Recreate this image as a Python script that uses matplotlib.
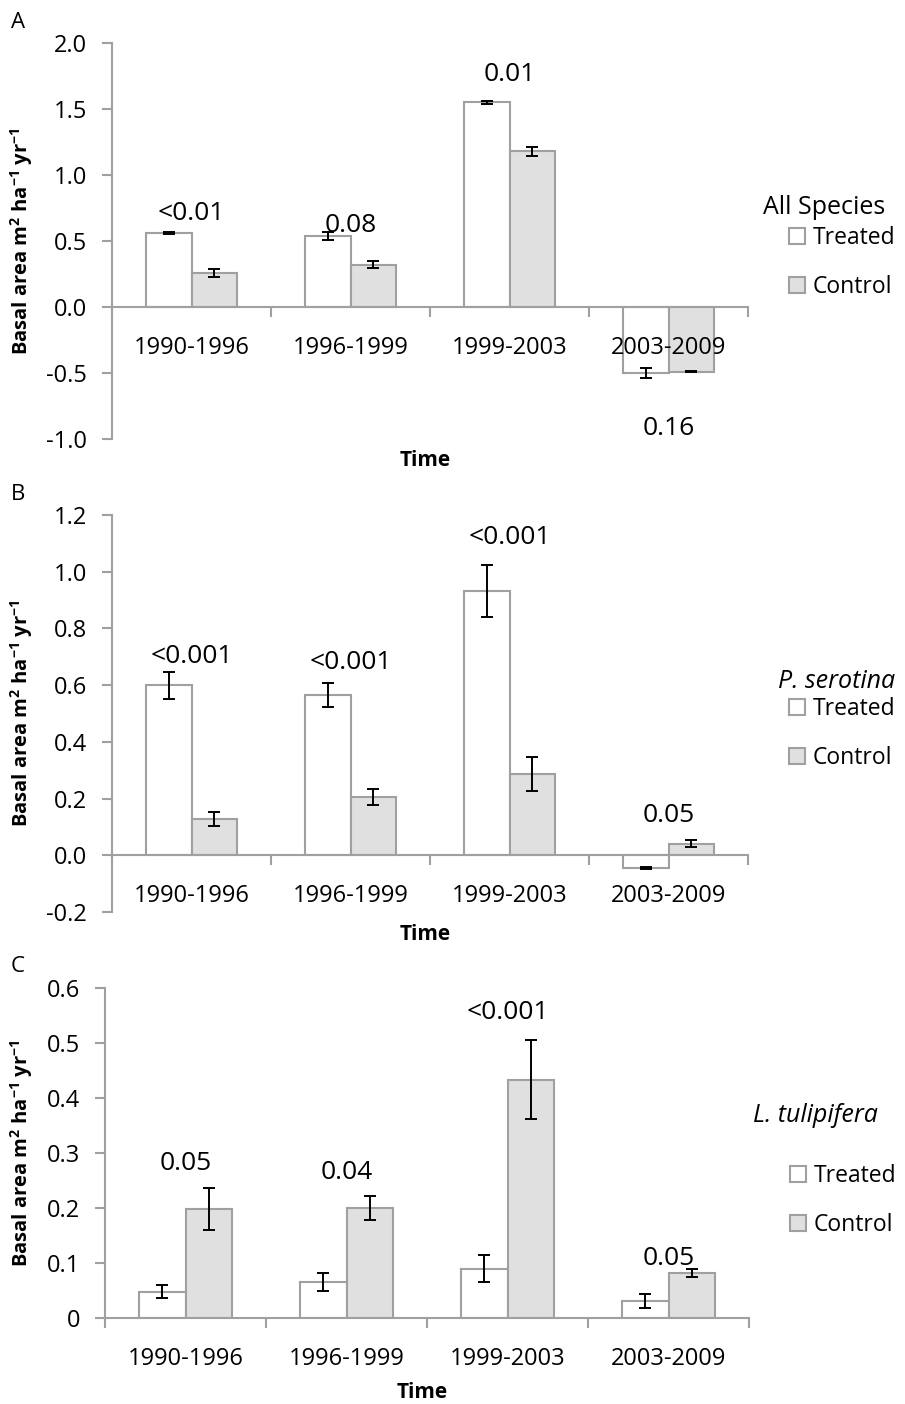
import numpy as np
import matplotlib.pyplot as plt
from matplotlib.patches import Patch

plt.rcParams['font.family'] = ['Open Sans', 'DejaVu Sans']
plt.rcParams['mathtext.fontset'] = 'custom'
plt.rcParams['mathtext.rm'] = 'Open Sans'
plt.rcParams['mathtext.bf'] = 'Open Sans:bold'

periods = ['1990-1996', '1996-1999', '1999-2003', '2003-2009']

# A: all species
a_treated = [0.56, 0.54, 1.55, -0.50]
a_treated_err = [0.01, 0.03, 0.01, 0.04]
a_control = [0.26, 0.32, 1.18, -0.49]
a_control_err = [0.03, 0.025, 0.035, 0.004]
a_p = ['<0.01', '0.08', '0.01', '0.16']
a_p_y = [0.71, 0.62, 1.76, -0.92]

# B: P. serotina
b_treated = [0.60, 0.565, 0.932, -0.045]
b_treated_err = [0.048, 0.043, 0.092, 0.004]
b_control = [0.127, 0.206, 0.286, 0.041]
b_control_err = [0.024, 0.027, 0.060, 0.012]
b_p = ['<0.001', '<0.001', '<0.001', '0.05']
b_p_y = [0.70, 0.68, 1.12, 0.14]

# C: L. tulipifera
c_treated = [0.048, 0.066, 0.090, 0.031]
c_treated_err = [0.012, 0.016, 0.024, 0.013]
c_control = [0.198, 0.200, 0.433, 0.082]
c_control_err = [0.038, 0.021, 0.072, 0.007]
c_p = ['0.05', '0.04', '<0.001', '0.05']
c_p_y = [0.28, 0.264, 0.555, 0.109]

W, H = 905, 1404
fig = plt.figure(figsize=(W / 100, H / 100), dpi=100)

grey = '#a0a0a0'
fill_c = '#e0e0e0'
bw = 0.286


def px(x, y):
    return x / W, 1 - y / H


def panel(box, treated, t_err, control, c_err, pvals, p_y, ylim, yticks, fmt,
          letter, title, title_style, legend_px, title_px):
    l, t, r, b = box
    ax = fig.add_axes([l / W, 1 - b / H, (r - l) / W, (b - t) / H])
    x = np.arange(len(periods))
    ekw = dict(ecolor='black', elinewidth=1.4, capsize=4, capthick=1.4)
    ax.bar(x - bw / 2, treated, bw, color='white', edgecolor=grey, linewidth=1.5,
           yerr=t_err, error_kw=ekw, zorder=2)
    ax.bar(x + bw / 2, control, bw, color=fill_c, edgecolor=grey, linewidth=1.5,
           yerr=c_err, error_kw=ekw, zorder=2)
    for xi, s, yy in zip(x, pvals, p_y):
        ax.text(xi, yy, s, ha='center', va='center', fontsize=19, zorder=4)

    ax.set_axisbelow(False)
    ax.set_xlim(-0.5, len(periods) - 0.5)
    ax.set_ylim(*ylim)
    ax.set_yticks(yticks)
    ax.set_yticklabels([fmt.format(v) for v in yticks])
    ax.set_xticks(np.arange(len(periods) + 1) - 0.5)
    ax.set_xticklabels([])
    ax.set_xticks(x, minor=True)
    ax.set_xticklabels(periods, minor=True)
    ax.tick_params(axis='x', which='major', length=7, width=1.5, color=grey)
    ax.tick_params(axis='x', which='minor', length=0, pad=21, labelsize=17)
    ax.tick_params(axis='y', length=7, width=1.5, color=grey, pad=11, labelsize=17)
    for s in ['top', 'right']:
        ax.spines[s].set_visible(False)
    for s in ['left', 'bottom']:
        ax.spines[s].set_color(grey)
        ax.spines[s].set_linewidth(1.5)
    ax.spines['bottom'].set_position(('data', 0))

    fig.text(*px((l + r) / 2 - 5, b + 22 if letter != 'C' else b + 75), 'Time',
             ha='center', va='center', fontsize=15, fontweight='bold')
    fig.text(*px(22, (t + b) / 2), r'Basal area m$^{\mathbf{2}}$ ha$^{\mathbf{-1}}$ yr$^{\mathbf{-1}}$',
             rotation=90, ha='center', va='center', fontsize=14.5, fontweight='bold')
    fig.text(*px(18, t - 21), letter, ha='center', va='center', fontsize=16)

    fig.text(*px(*title_px), title, ha='left', va='center', fontsize=18,
             style=title_style)
    handles = [Patch(facecolor='white', edgecolor=grey, linewidth=1.5),
               Patch(facecolor=fill_c, edgecolor=grey, linewidth=1.5)]
    ax.legend(handles, ['Treated', 'Control'], loc='upper left',
              bbox_to_anchor=px(*legend_px), bbox_transform=fig.transFigure,
              frameon=False, fontsize=16.5, handlelength=0.7, handleheight=0.7,
              handletextpad=0.35, labelspacing=1.1, borderpad=0, borderaxespad=0)
    return ax


panel((112, 43, 748, 439), a_treated, a_treated_err, a_control, a_control_err,
      a_p, a_p_y, (-1.0, 2.0), [-1.0, -0.5, 0.0, 0.5, 1.0, 1.5, 2.0], '{:.1f}',
      'A', 'All Species', 'normal', (789, 226), (763, 207))

panel((112, 515, 748, 912), b_treated, b_treated_err, b_control, b_control_err,
      b_p, b_p_y, (-0.2, 1.2), [-0.2, 0.0, 0.2, 0.4, 0.6, 0.8, 1.0, 1.2], '{:.1f}',
      'B', 'P. serotina', 'italic', (789, 697), (778, 682))

panel((105, 988, 749, 1318), c_treated, c_treated_err, c_control, c_control_err,
      c_p, c_p_y, (0.0, 0.6), [0.0, 0.1, 0.2, 0.3, 0.4, 0.5, 0.6], '{:g}',
      'C', 'L. tulipifera', 'italic', (790, 1164), (753, 1115))

fig.savefig('out.png', dpi=100)
